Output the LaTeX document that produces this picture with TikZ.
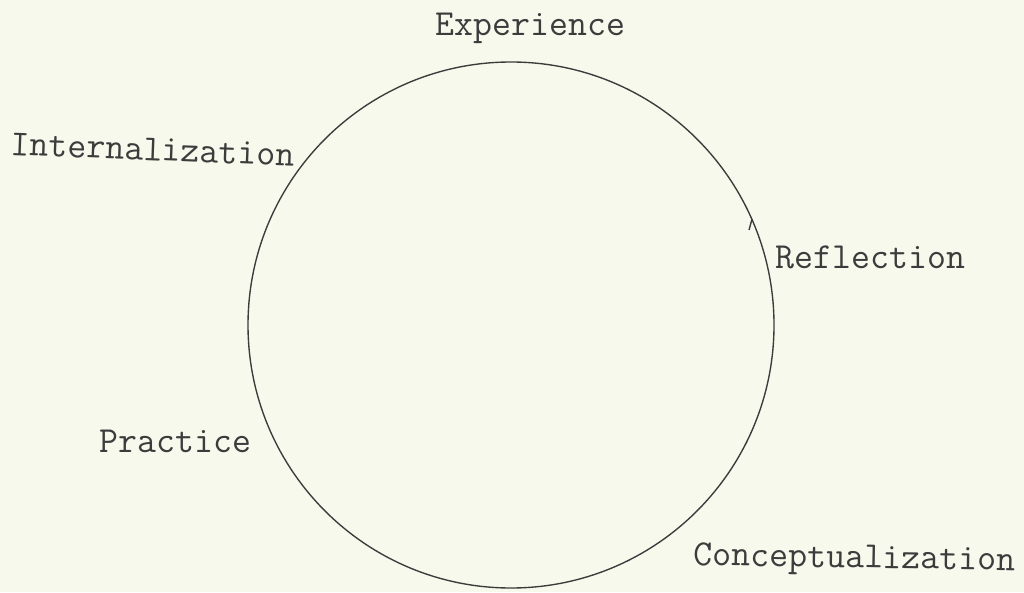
\documentclass[tikz,border=0pt]{standalone}
\usepackage{fontspec}
\definecolor{paper}{HTML}{F7F9EC}
\definecolor{ink}{HTML}{3C3C3C}

\begin{document}
\begin{tikzpicture}[x=0.4pt,y=-0.4pt,line width=0.55pt,
  stage/.style={font=\ttfamily\fontsize{14.7}{17}\selectfont,text=ink,inner sep=0pt}]
  \fill[paper] (0,0) rectangle (1024,592);
  \useasboundingbox (0,0) rectangle (1024,592);
  \coordinate (O) at (511,325);
  \draw[ink] (O) circle[radius=263];
  \coordinate (T) at (752,219);
  \draw[ink] (T) -- ++(-3,11);
  \node[stage,anchor=base west] (exp) at (435,36) {Experience};
  \node[stage,anchor=base west,rotate=-2.2] (int) at (10,155) {Internalization};
  \node[stage,anchor=base west] (refl) at (775,268) {Reflection};
  \node[stage,anchor=base west] (prac) at (99,452) {Practice};
  \node[stage,anchor=base west,rotate=-1] (conc) at (693,565) {Conceptualization};
\end{tikzpicture}
\end{document}
